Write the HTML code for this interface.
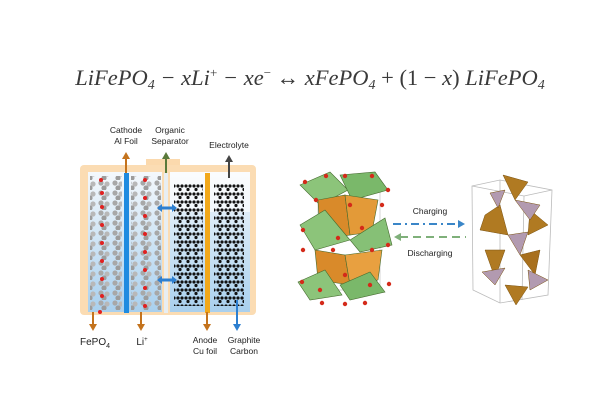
<!DOCTYPE html>
<html><head><meta charset="utf-8"><style>
html,body{margin:0;padding:0;background:#fff;width:600px;height:400px;overflow:hidden}
svg{display:block}
</style></head><body>
<svg width="600" height="400" viewBox="0 0 600 400" xmlns="http://www.w3.org/2000/svg" font-family="Liberation Sans, sans-serif">
<defs>
<linearGradient id="bl" x1="0" y1="0" x2="0" y2="1"><stop offset="0" stop-color="#f4f8fc"/><stop offset="1" stop-color="#a9d0ee"/></linearGradient>
<pattern id="gr" width="14" height="10" patternUnits="userSpaceOnUse">
<circle cx="3" cy="3" r="2.6" fill="#a8a8a8"/><circle cx="9" cy="4" r="2.6" fill="#b8b8b8"/><circle cx="6" cy="8" r="2.6" fill="#9c9c9c"/></pattern>
<pattern id="gp" width="8" height="8" patternUnits="userSpaceOnUse">
<circle cx="2" cy="2" r="1.6" fill="#111"/><circle cx="6" cy="2" r="1.6" fill="#111"/><circle cx="4" cy="5.5" r="1.6" fill="#111"/></pattern>
</defs>
<text x="310" y="85" text-anchor="middle" font-family="Liberation Serif, serif" font-style="italic" font-size="22.5" fill="#3a3a3a">LiFePO<tspan font-size="14" dy="4">4</tspan><tspan dy="-4"> − xLi</tspan><tspan font-size="13" dy="-8" font-style="normal">+</tspan><tspan dy="8"> − xe</tspan><tspan font-size="13" dy="-8" font-style="normal">−</tspan><tspan dy="8" font-style="normal"> ↔ </tspan>xFePO<tspan font-size="14" dy="4">4</tspan><tspan dy="-4" font-style="normal"> + (1 − </tspan>x<tspan font-style="normal">) </tspan>LiFePO<tspan font-size="14" dy="4">4</tspan></text>

<!-- battery -->
<rect x="146" y="159" width="34" height="10" fill="#fbd9ad"/>
<rect x="80" y="165" width="176" height="150" rx="4" fill="#fbdcb3"/>
<rect x="88" y="172" width="74" height="140" fill="url(#bl)"/>
<rect x="170" y="172" width="80" height="140" fill="url(#bl)"/>
<rect x="170" y="172" width="80" height="40" fill="#fff" opacity=".6"/>
<rect x="90" y="176" width="32" height="134" fill="url(#gr)"/>
<rect x="131" y="176" width="30" height="134" fill="url(#gr)"/>
<g fill="#e02020">
<circle cx="101" cy="180" r="2"/><circle cx="102" cy="193" r="2"/><circle cx="102" cy="207" r="2"/><circle cx="102" cy="225" r="2"/><circle cx="102" cy="243" r="2"/><circle cx="102" cy="261" r="2"/><circle cx="102" cy="279" r="2"/><circle cx="102" cy="296" r="2"/><circle cx="100" cy="312" r="2"/>
<circle cx="145" cy="180" r="2"/><circle cx="145" cy="198" r="2"/><circle cx="145" cy="216" r="2"/><circle cx="145" cy="234" r="2"/><circle cx="145" cy="252" r="2"/><circle cx="145" cy="270" r="2"/><circle cx="145" cy="288" r="2"/><circle cx="145" cy="306" r="2"/></g>
<rect x="124" y="173" width="5" height="140" fill="#1f8be0"/>
<rect x="164" y="173" width="4" height="140" fill="#e8eef2"/>
<rect x="174" y="184" width="29" height="122" fill="url(#gp)"/>
<rect x="214" y="184" width="30" height="122" fill="url(#gp)"/>
<rect x="205" y="173" width="5" height="140" fill="#f2a81a"/>
<g stroke="#2d7fd0" stroke-width="3"><line x1="160" y1="208" x2="174" y2="208"/><line x1="160" y1="280" x2="174" y2="280"/></g>
<g fill="#2d7fd0"><path d="M157,208l5,-4v8z"/><path d="M177,208l-5,-4v8z"/><path d="M157,280l5,-4v8z"/><path d="M177,280l-5,-4v8z"/></g>
<g stroke-width="2">
<line x1="126" y1="173" x2="126" y2="157" stroke="#c4731d"/><path d="M122,159l4,-7l4,7z" fill="#c4731d"/>
<line x1="166" y1="173" x2="166" y2="157" stroke="#5a7a3a"/><path d="M162,159l4,-7l4,7z" fill="#5a7a3a"/>
<line x1="229" y1="178" x2="229" y2="160" stroke="#444"/><path d="M225,162l4,-7l4,7z" fill="#444"/>
<line x1="93" y1="312" x2="93" y2="326" stroke="#c4731d"/><path d="M89,324l4,7l4,-7z" fill="#c4731d"/>
<line x1="141" y1="312" x2="141" y2="326" stroke="#c4731d"/><path d="M137,324l4,7l4,-7z" fill="#c4731d"/>
<line x1="207" y1="312" x2="207" y2="326" stroke="#c4731d"/><path d="M203,324l4,7l4,-7z" fill="#c4731d"/>
<line x1="237" y1="300" x2="237" y2="326" stroke="#2d7fd0"/><path d="M233,324l4,7l4,-7z" fill="#2d7fd0"/>
</g>
<g font-size="8.5" fill="#222" text-anchor="middle">
<text x="126" y="133">Cathode</text><text x="126" y="144">Al Foil</text>
<text x="170" y="133">Organic</text><text x="170" y="144">Separator</text>
<text x="229" y="148">Electrolyte</text>
<text x="95" y="345" font-size="10">FePO<tspan font-size="7" dy="3">4</tspan></text>
<text x="142" y="345" font-size="10">Li<tspan font-size="6" dy="-4">+</tspan></text>
<text x="205" y="343">Anode</text><text x="205" y="354">Cu foil</text>
<text x="244" y="343">Graphite</text><text x="244" y="354">Carbon</text>
</g>

<!-- left crystal -->
<g stroke="#456b2e" stroke-width=".6">
<rect x="318" y="190" width="62" height="100" fill="none" stroke="#bbb"/>
<path d="M300,185L330,172L348,190L320,205z" fill="#8cc47a"/>
<path d="M340,175L375,172L388,190L352,200z" fill="#7ab86a"/>
<path d="M318,200L345,195L350,235L320,240z" fill="#d98a2a"/>
<path d="M345,195L378,200L372,232L350,235z" fill="#e39a38"/>
<path d="M300,225L325,210L350,240L315,250z" fill="#8cc47a"/>
<path d="M350,240L385,218L392,245L360,252z" fill="#86c076"/>
<path d="M315,250L345,255L350,285L318,280z" fill="#d98a2a"/>
<path d="M345,255L382,250L378,280L350,285z" fill="#e8a040"/>
<path d="M298,282L325,270L342,295L310,300z" fill="#8cc47a"/>
<path d="M340,285L370,272L385,292L350,300z" fill="#7ab86a"/>
</g>
<g fill="#d42a1a">
<circle cx="305" cy="182" r="2.2"/><circle cx="326" cy="176" r="2.2"/><circle cx="345" cy="176" r="2.2"/><circle cx="372" cy="176" r="2.2"/><circle cx="388" cy="190" r="2.2"/><circle cx="316" cy="200" r="2.2"/><circle cx="350" cy="205" r="2.2"/><circle cx="382" cy="205" r="2.2"/><circle cx="303" cy="230" r="2.2"/><circle cx="338" cy="238" r="2.2"/><circle cx="362" cy="228" r="2.2"/><circle cx="388" cy="245" r="2.2"/><circle cx="303" cy="250" r="2.2"/><circle cx="333" cy="250" r="2.2"/><circle cx="372" cy="250" r="2.2"/><circle cx="302" cy="282" r="2.2"/><circle cx="320" cy="290" r="2.2"/><circle cx="345" cy="275" r="2.2"/><circle cx="370" cy="285" r="2.2"/><circle cx="389" cy="284" r="2.2"/><circle cx="322" cy="303" r="2.2"/><circle cx="345" cy="304" r="2.2"/><circle cx="365" cy="303" r="2.2"/></g>
<line x1="393" y1="224" x2="460" y2="224" stroke="#3a86c8" stroke-width="2" stroke-dasharray="8,4,2,4"/>
<path d="M458,220l7,4l-7,4z" fill="#3a86c8"/>
<line x1="400" y1="237" x2="466" y2="237" stroke="#7fb07a" stroke-width="2" stroke-dasharray="8,5"/>
<path d="M401,233l-7,4l7,4z" fill="#7fb07a"/>
<text x="430" y="214" font-size="8.5" text-anchor="middle" fill="#222">Charging</text>
<text x="430" y="256" font-size="8.5" text-anchor="middle" fill="#222">Discharging</text>
<g fill="none" stroke="#bbb" stroke-width=".8">
<path d="M472,186L500,180L552,190L548,295L500,303L473,290z"/><line x1="500" y1="180" x2="500" y2="303"/><line x1="472" y1="186" x2="524" y2="196"/><line x1="524" y1="196" x2="552" y2="190"/><line x1="524" y1="196" x2="522" y2="300"/></g>
<g stroke="#7a5210" stroke-width=".5">
<path d="M503,175L528,182L515,200z" fill="#b07a22"/>
<path d="M485,215L500,205L508,235L480,230z" fill="#b07a22"/>
<path d="M530,210L548,225L528,235z" fill="#b07a22"/>
<path d="M485,250L505,250L495,278z" fill="#b07a22"/>
<path d="M520,255L540,250L535,275z" fill="#a8701e"/>
<path d="M505,285L528,287L516,305z" fill="#b07a22"/>
<path d="M490,193L505,190L498,208z" fill="#b29ab0"/>
<path d="M515,200L540,205L530,220z" fill="#b29ab0"/>
<path d="M508,235L528,232L520,255z" fill="#b29ab0"/>
<path d="M482,272L505,268L495,285z" fill="#b29ab0"/>
<path d="M528,270L548,280L530,290z" fill="#b29ab0"/>
</g>
</svg>
</body></html>
